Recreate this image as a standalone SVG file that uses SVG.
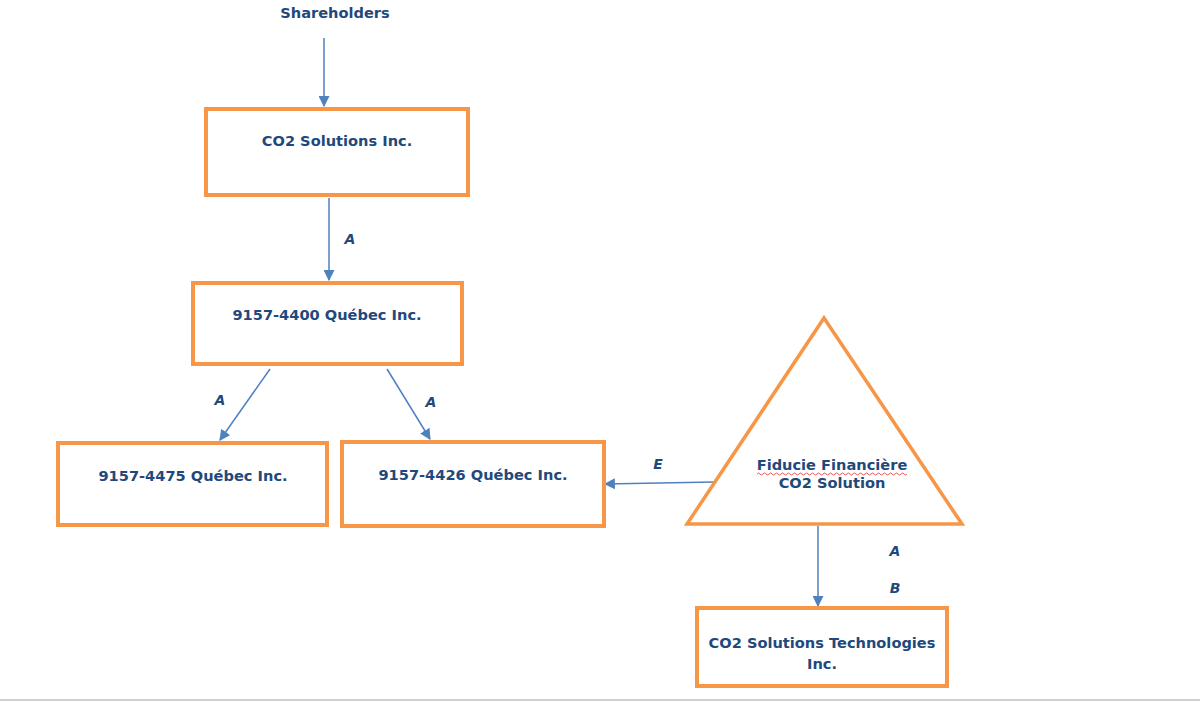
<svg xmlns="http://www.w3.org/2000/svg" width="1200" height="702" viewBox="0 0 1200 702">
<defs>
<style>
.box{fill:#fff;stroke:#F79646;stroke-width:4}
.t{font-family:"DejaVu Sans",Verdana,sans-serif;font-weight:bold;font-size:14.6px;fill:#1F497D;text-anchor:middle}
.l{font-family:"DejaVu Sans",Verdana,sans-serif;font-weight:bold;font-style:italic;font-size:14px;fill:#1F497D;text-anchor:middle}
.c{stroke:#4F81BD;stroke-width:1.5;fill:none;marker-end:url(#ah)}
</style>
<marker id="ah" viewBox="0 0 10 10" refX="9" refY="5" markerWidth="11" markerHeight="11" markerUnits="userSpaceOnUse" orient="auto">
<path d="M0,0 L10,5 L0,10 z" fill="#4F81BD"/>
</marker>
</defs>
<rect width="1200" height="702" fill="#fff"/>
<line x1="0" y1="700" x2="1200" y2="700" stroke="#d0d0d0" stroke-width="2"/>
<g id="connectors">
<line class="c" x1="324" y1="38" x2="324" y2="106"/>
<line class="c" x1="329" y1="198" x2="329" y2="280"/>
<line class="c" x1="270" y1="369" x2="220" y2="440"/>
<line class="c" x1="387" y1="369" x2="430" y2="439"/>
<line class="c" x1="714" y1="482" x2="605" y2="484"/>
<line class="c" x1="818" y1="526" x2="818" y2="606"/>
<text class="l" x="350" y="244">A</text>
<text class="l" x="220" y="405">A</text>
<text class="l" x="431" y="407">A</text>
<text class="l" x="658" y="469">E</text>
<text class="l" x="895" y="556">A</text>
<text class="l" x="895" y="593">B</text>
</g>
<g id="shareholders"><text class="t" x="335" y="18">Shareholders</text></g>
<g id="co2-solutions"><rect class="box" x="206" y="109" width="262" height="86"/><text class="t" x="337" y="146">CO2 Solutions Inc.</text></g>
<g id="q4400"><rect class="box" x="193" y="283" width="269" height="81"/><text class="t" x="327" y="320">9157-4400 Québec Inc.</text></g>
<g id="q4475"><rect class="box" x="58" y="443" width="269" height="82"/><text class="t" x="193" y="481">9157-4475 Québec Inc.</text></g>
<g id="q4426"><rect class="box" x="342" y="442" width="262" height="84"/><text class="t" x="473" y="480">9157-4426 Québec Inc.</text></g>
<g id="fiducie"><polygon points="824,318 962,524 687,524" fill="#fff" stroke="#F79646" stroke-width="3.5" stroke-linejoin="miter"/>
<text class="t" x="832" y="470">Fiducie Financière</text>
<path d="M757,474 q1.5,-2 3,0 t3,0 t3,0 t3,0 t3,0 t3,0 t3,0 t3,0 t3,0 t3,0 t3,0 t3,0 t3,0 t3,0 t3,0 t3,0 t3,0 t3,0 t3,0 t3,0 t3,0 t3,0 t3,0 t3,0 t3,0 t3,0 t3,0 t3,0 t3,0 t3,0 t3,0 t3,0 t3,0 t3,0 t3,0 t3,0 t3,0 t3,0 t3,0 t3,0 t3,0 t3,0 t3,0 t3,0 t3,0 t3,0 t3,0 t3,0 t3,0 t3,0" fill="none" stroke="#e03030" stroke-width="0.8"/>
<text class="t" x="832" y="488">CO2 Solution</text></g>
<g id="co2-tech"><rect class="box" x="697" y="608" width="250" height="78"/><text class="t" x="822" y="648">CO2 Solutions Technologies</text><text class="t" x="822" y="669">Inc.</text></g>
</svg>
